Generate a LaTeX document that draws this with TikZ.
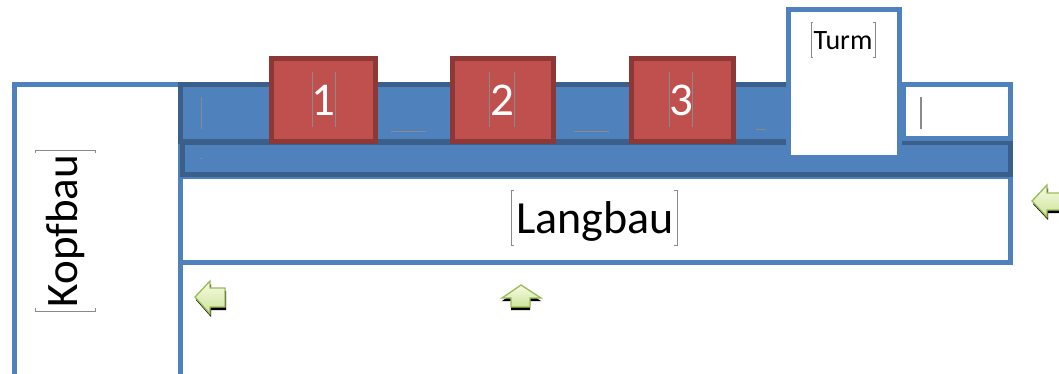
\documentclass[tikz,border=0pt]{standalone}
\usepackage{fontspec}
\setmainfont{Carlito}[Ligatures=NoCommon]
\begin{document}
\begin{tikzpicture}[x=1pt,y=-1pt,
  outlinebox/.style={draw=accentblue,line width=5pt,fill=white},
  trackbox/.style={draw=darkblue,line width=5pt,fill=accentblue},
  carbox/.style={draw=darkred,line width=5pt,fill=accentred},
  cursor/.style={draw=cursorgray,line width=0.8pt},
  blockarrow/.style={top color=arrowlight,bottom color=arrowdark,draw=arrowedge,line width=1.3pt,line join=miter},
  arrowshadow/.style={fill=black},
  label/.style={inner sep=0pt,text=black}]
\definecolor{accentblue}{HTML}{4F81BD}
\definecolor{darkblue}{HTML}{3A5F8B}
\definecolor{accentred}{HTML}{C0504D}
\definecolor{darkred}{HTML}{8C3836}
\definecolor{cursorgray}{HTML}{8A8A8A}
\definecolor{arrowlight}{HTML}{F6FBE3}
\definecolor{arrowdark}{HTML}{CDE49A}
\definecolor{arrowedge}{HTML}{9BBB59}

\useasboundingbox (0,0) rectangle (1059,374);
\clip (0,0) rectangle (1059,374);

% Kopfbau (head building)
\draw[outlinebox] (14,85) rectangle (180,380);
% Langbau (long building)
\draw[outlinebox] (180,177) rectangle (1010,262);

% lower track strip
\draw[trackbox] (182,143) rectangle (1010,175);
% upper track strip
\draw[trackbox] (180,85) rectangle (795,142);

% wagons
\draw[carbox] (271,59) rectangle (375,142);
\draw[carbox] (452,59) rectangle (553,142);
\draw[carbox] (631,59) rectangle (733,142);

% Turm (tower) and side box
\draw[outlinebox] (903,85) rectangle (1010,139);
\draw[outlinebox] (788,10) rectangle (899,158);

% labels
\node[label] (kopf) at (66,231) {\rotatebox{90}{\fontsize{45}{45}\selectfont Kopfbau}};
\node[label] (lang) at (595,221) {\fontsize{46}{46}\selectfont Langbau};
\node[label,anchor=base] (turm) at (843,50) {\fontsize{28}{28}\selectfont Turm};
\node[label,text=white] (n1) at (323,100) {\fontsize{47}{47}\selectfont 1};
\node[label,text=white] (n2) at (502,100) {\fontsize{47}{47}\selectfont 2};
\node[label,text=white] (n3) at (681,100) {\fontsize{47}{47}\selectfont 3};

% text cursors
\draw[cursor] (514,190) -- (511,190) -- (511,245) -- (514,245);
\draw[cursor] (674,190) -- (677,190) -- (677,245) -- (674,245);
\draw[cursor] (35,153) -- (35,150) -- (95,150) -- (95,153);
\draw[cursor] (35,308) -- (35,311) -- (95,311) -- (95,308);
\draw[cursor] (813,22) -- (811,22) -- (811,57) -- (813,57);
\draw[cursor] (873,22) -- (875,22) -- (875,57) -- (873,57);
\draw[cursor] (312,72) -- (312,127);
\draw[cursor] (335,72) -- (335,127);
\draw[cursor] (489,72) -- (489,127);
\draw[cursor] (514,72) -- (514,127);
\draw[cursor] (669,72) -- (669,127);
\draw[cursor] (692,72) -- (692,127);
\draw[cursor] (201,97) -- (201,129);
\draw[cursor] (200,158) -- (202,158);
\draw[cursor] (391,131) -- (426,131);
\draw[cursor] (574,131) -- (609,131);
\draw[cursor] (756,129) -- (766,129);
\draw[cursor,line width=1.2pt] (921,97) -- (921,129);

% block arrows with drop shadows
\fill[arrowshadow,shift={(1,3)}] (195,297) -- (210,281) -- (210,288) -- (225,288) -- (225,307) -- (210,307) -- (210,314) -- cycle;
\draw[blockarrow] (195,297) -- (210,281) -- (210,288) -- (225,288) -- (225,307) -- (210,307) -- (210,314) -- cycle;

\fill[arrowshadow,shift={(0,3)}] (521,285) -- (541,298) -- (530,298) -- (530,307) -- (511,307) -- (511,298) -- (502,298) -- cycle;
\draw[blockarrow] (521,285) -- (541,298) -- (530,298) -- (530,307) -- (511,307) -- (511,298) -- (502,298) -- cycle;

\fill[arrowshadow,shift={(1,3)}] (1032,201) -- (1047,185) -- (1047,193) -- (1064,193) -- (1064,210) -- (1047,210) -- (1047,217) -- cycle;
\draw[blockarrow] (1032,201) -- (1047,185) -- (1047,193) -- (1064,193) -- (1064,210) -- (1047,210) -- (1047,217) -- cycle;
\end{tikzpicture}
\end{document}
